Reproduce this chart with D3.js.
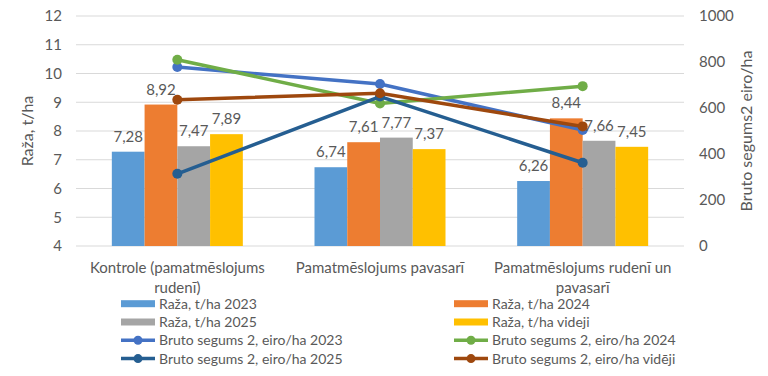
<!DOCTYPE html>
<html>
<head>
<meta charset="utf-8">
<script src="https://cdn.jsdelivr.net/npm/d3@7"></script>
<style>
  body { margin: 0; background: #fff; }
  svg text { font-family: Lato, "Open Sans", sans-serif; fill: #595959; }
</style>
</head>
<body>
<div id="chart"></div>
<script>
// categories and values
var categories = ["Kontrole (pamatmēslojums rudenī)", "Pamatmēslojums pavasarī", "Pamatmēslojums rudenī un pavasarī"];
var categoryLines = [["Kontrole (pamatmēslojums", "rudenī)"], ["Pamatmēslojums pavasarī"], ["Pamatmēslojums rudenī un", "pavasarī"]];

var barSeries = ["Raža, t/ha 2023", "Raža, t/ha 2024", "Raža, t/ha 2025", "Raža, t/ha videji"];
var yield2023 = [7.28, 6.74, 6.26];
var yield2024 = [8.92, 7.61, 8.44];
var yield2025 = [7.47, 7.77, 7.66];
var yieldAvg = [7.89, 7.37, 7.45];

var lineSeries = ["Bruto segums 2, eiro/ha 2023", "Bruto segums 2, eiro/ha 2024", "Bruto segums 2, eiro/ha 2025", "Bruto segums 2, eiro/ha vidēji"];
var margin2023 = [778, 704, 504];
var margin2024 = [810, 620, 695];
var margin2025 = [314, 650, 362];
var marginAvg = [636, 664, 520];

var leftTicks = [4, 5, 6, 7, 8, 9, 10, 11, 12];
var rightTicks = [0, 200, 400, 600, 800, 1000];

var barColors = ["#5b9bd5", "#ed7d31", "#a5a5a5", "#ffc000"];
var lineColors = ["#4472c4", "#70ad47", "#255e91", "#9e480e"];

var W = 768, H = 376;
var plot = { left: 76, right: 684, top: 16, bottom: 246 };

var svg = d3.select("#chart").append("svg")
  .attr("width", W)
  .attr("height", H);

var x = d3.scaleBand()
  .domain(categories)
  .range([plot.left, plot.right]);

var y = d3.scaleLinear().domain([4, 12]).range([plot.bottom, plot.top]);
var y2 = d3.scaleLinear().domain([0, 1000]).range([plot.bottom, plot.top]);

var groupWidth = 131;
var xInner = d3.scaleBand()
  .domain(d3.range(4))
  .range([0, groupWidth]);

// grid lines
svg.append("g")
  .selectAll("line")
  .data(leftTicks)
  .enter()
  .append("line")
  .attr("x1", plot.left)
  .attr("x2", plot.right)
  .attr("y1", function (d) { return y(d); })
  .attr("y2", function (d) { return y(d); })
  .attr("stroke", "#d9d9d9")
  .attr("stroke-width", 1);

// left axis
var leftAxis = svg.append("g")
  .attr("transform", "translate(" + plot.left + ",0)")
  .call(d3.axisLeft(y).tickValues(leftTicks).tickSize(0).tickPadding(14));
leftAxis.select(".domain").remove();
leftAxis.selectAll("text").style("font-size", "15px");

// right axis
var rightAxis = svg.append("g")
  .attr("transform", "translate(" + plot.right + ",0)")
  .call(d3.axisRight(y2).tickValues(rightTicks).tickFormat(d3.format("d")).tickSize(0).tickPadding(15));
rightAxis.select(".domain").remove();
rightAxis.selectAll("text").style("font-size", "15px");

// axis titles
svg.append("text")
  .attr("transform", "translate(33," + ((plot.top + plot.bottom) / 2) + ") rotate(-90)")
  .attr("text-anchor", "middle")
  .style("font-size", "16px")
  .text("Raža, t/ha");

svg.append("text")
  .attr("transform", "translate(752," + ((plot.top + plot.bottom) / 2) + ") rotate(-90)")
  .attr("text-anchor", "middle")
  .style("font-size", "16px")
  .text("Bruto segums2 eiro/ha");

// category labels
categories.forEach(function (c, i) {
  var t = svg.append("text")
    .attr("text-anchor", "middle")
    .style("font-size", "15px");
  categoryLines[i].forEach(function (line, j) {
    t.append("tspan")
      .attr("x", x(c) + x.bandwidth() / 2)
      .attr("y", 273 + j * 20)
      .text(line);
  });
});

// bars
var bars = [yield2023, yield2024, yield2025, yieldAvg];
var barData = [];
categories.forEach(function (c, i) {
  bars.forEach(function (vals, s) {
    barData.push({ cat: c, s: s, v: vals[i] });
  });
});

function barX(d) {
  return x(d.cat) + x.bandwidth() / 2 - groupWidth / 2 + xInner(d.s);
}

svg.append("g")
  .selectAll("rect")
  .data(barData)
  .enter()
  .append("rect")
  .attr("x", barX)
  .attr("y", function (d) { return y(d.v); })
  .attr("width", xInner.bandwidth())
  .attr("height", function (d) { return y(4) - y(d.v); })
  .attr("fill", function (d) { return barColors[d.s]; });

// lines
var lines = [margin2023, margin2024, margin2025, marginAvg];
var line = d3.line()
  .x(function (d) { return x(d.cat) + x.bandwidth() / 2; })
  .y(function (d) { return y2(d.v); });

lines.forEach(function (vals, s) {
  var pts = categories.map(function (c, i) { return { cat: c, v: vals[i] }; });
  svg.append("path")
    .datum(pts)
    .attr("d", line)
    .attr("fill", "none")
    .attr("stroke", lineColors[s])
    .attr("stroke-width", 3.5)
    .attr("stroke-linecap", "round");
  svg.selectAll(null)
    .data(pts)
    .enter()
    .append("circle")
    .attr("cx", function (d) { return x(d.cat) + x.bandwidth() / 2; })
    .attr("cy", function (d) { return y2(d.v); })
    .attr("r", 5)
    .attr("fill", lineColors[s]);
});

// bar value labels
svg.append("g")
  .selectAll("text")
  .data(barData)
  .enter()
  .append("text")
  .attr("x", function (d) { return barX(d) + xInner.bandwidth() / 2; })
  .attr("y", function (d) { return y(d.v) - 10; })
  .attr("text-anchor", "middle")
  .style("font-size", "15px")
  .text(function (d) { return d.v.toFixed(2).replace(".", ","); });

// legend
var legendItems = [
  { name: barSeries[0], type: "bar", color: barColors[0] },
  { name: barSeries[1], type: "bar", color: barColors[1] },
  { name: barSeries[2], type: "bar", color: barColors[2] },
  { name: barSeries[3], type: "bar", color: barColors[3] },
  { name: lineSeries[0], type: "line", color: lineColors[0] },
  { name: lineSeries[1], type: "line", color: lineColors[1] },
  { name: lineSeries[2], type: "line", color: lineColors[2] },
  { name: lineSeries[3], type: "line", color: lineColors[3] }
];

var legend = svg.append("g");
legendItems.forEach(function (d, i) {
  var col = i % 2, row = Math.floor(i / 2);
  var lx = col === 0 ? 121 : 454;
  var ly = 303.7 + row * 18.3;
  var g = legend.append("g").attr("transform", "translate(" + lx + "," + ly + ")");
  if (d.type === "bar") {
    g.append("rect").attr("x", 0).attr("y", -3.5).attr("width", 34).attr("height", 7).attr("fill", d.color);
  } else {
    g.append("line").attr("x1", 0).attr("x2", 34).attr("y1", 0).attr("y2", 0)
      .attr("stroke", d.color).attr("stroke-width", 3.5);
    g.append("circle").attr("cx", 17).attr("cy", 0).attr("r", 4.5).attr("fill", d.color);
  }
  g.append("text")
    .attr("x", 38)
    .attr("y", 5)
    .style("font-size", "14px")
    .text(d.name);
});
</script>
</body>
</html>
